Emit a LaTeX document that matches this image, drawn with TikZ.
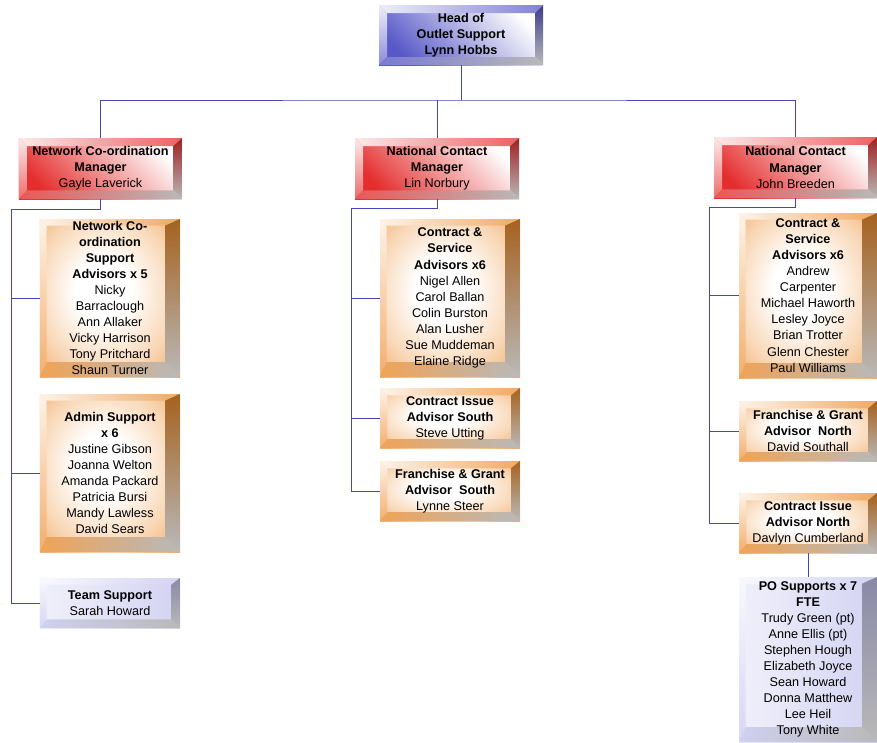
\documentclass[tikz,border=0pt]{standalone}
\usepackage{fontspec}
\setmainfont{Liberation Sans}
\usetikzlibrary{positioning}
\definecolor{headblue}{RGB}{88,88,200}
\definecolor{mgrred}{RGB}{228,45,45}
\definecolor{advorange}{RGB}{236,140,45}
\definecolor{suplav}{RGB}{196,196,238}
\definecolor{linkblue}{RGB}{70,70,180}
\pgfdeclareradialshading{advface}{\pgfpoint{-3bp}{3bp}}{%
  color(0bp)=(white); color(10bp)=(white); color(25bp)=(advorange!35);
  color(40bp)=(advorange!85); color(60bp)=(advorange)}

\begin{document}
\begin{tikzpicture}[x=0.03cm, y=-0.03cm,
    conn/.style={draw=linkblue, line width=0.8pt},
    bevel/.style n args={3}{path picture={
        \path (path picture bounding box.south west) coordinate (bsw)
              (path picture bounding box.north east) coordinate (bne);
        \path (bsw) ++(#2,#3) coordinate (isw);
        \path (bne) ++(-#3,-#2) coordinate (ine);
        \shade[left color=#1!10, right color=#1!75] (bsw|-bne) -- (bne) -- (ine) -- (isw|-ine) -- cycle;
        \shade[top color=#1!10, bottom color=#1!70] (bsw|-bne) -- (isw|-ine) -- (isw) -- (bsw) -- cycle;
        \shade[top color=#1!70!black, bottom color=gray!55] (bne) -- (bne|-bsw) -- (ine|-isw) -- (ine) -- cycle;
        \shade[left color=#1!80, right color=gray!55] (bsw) -- (bne|-bsw) -- (ine|-isw) -- (isw) -- cycle;
    }},
    card/.style={rectangle, inner sep=0pt, align=center, font=\fontsize{10.8}{13.7}\selectfont},
    headbox/.style={card, top color=white, middle color=headblue!40, bottom color=headblue, shading angle=-45,
        bevel={headblue}{0.24cm}{0.24cm}},
    mgrbox/.style={card, top color=white, middle color=mgrred!22, bottom color=mgrred, shading angle=-45,
        bevel={mgrred}{0.24cm}{0.26cm}},
    advbox/.style 2 args={card, shade, shading=advface, bevel={advorange}{#1}{#2}},
    supbox/.style 2 args={card, left color=suplav!25, right color=suplav!75, bevel={suplav}{#1}{#2}}]

    \useasboundingbox[fill=white] (0,0) rectangle (877,742);

    % top of the chart
    \node[headbox, minimum width=4.92cm, minimum height=1.8cm] (head) at (461,35)
        {\bfseries Head of\\\bfseries Outlet Support\\\bfseries Lynn Hobbs};

    \node[mgrbox, minimum width=4.89cm, minimum height=1.83cm] (mgrL) at (100.5,168.5)
        {\bfseries Network Co-ordination\\\bfseries Manager\\Gayle Laverick};
    \node[mgrbox, minimum width=4.92cm, minimum height=1.83cm] (mgrM) at (437,168.5)
        {\bfseries National Contact\\\bfseries Manager\\Lin Norbury};
    \node[mgrbox, minimum width=4.89cm, minimum height=1.83cm] (mgrR) at (795.5,167.5)
        {\bfseries National Contact\\\bfseries Manager\\John Breeden};

    % left column
    \node[advbox={0.2cm}{0.45cm}, minimum width=4.2cm, minimum height=4.74cm] (ncsa) at (110,298)
        {\bfseries Network Co-\\\bfseries ordination\\\bfseries Support\\\bfseries Advisors x 5\\Nicky\\Barraclough\\Ann Allaker\\Vicky Harrison\\Tony Pritchard\\Shaun Turner};
    \node[advbox={0.2cm}{0.45cm}, minimum width=4.2cm, minimum height=4.74cm] (admin) at (110,473)
        {\bfseries Admin Support\\\bfseries x 6\\Justine Gibson\\Joanna Welton\\Amanda Packard\\Patricia Bursi\\Mandy Lawless\\David Sears};
    \node[supbox={0.2cm}{0.26cm}, minimum width=4.2cm, minimum height=1.5cm] (team) at (110,603)
        {\bfseries Team Support\\Sarah Howard};

    % middle column
    \node[advbox={0.2cm}{0.45cm}, minimum width=4.2cm, minimum height=4.74cm] (csaM) at (450,298)
        {\bfseries Contract \&\\\bfseries Service\\\bfseries Advisors x6\\Nigel Allen\\Carol Ballan\\Colin Burston\\Alan Lusher\\Sue Muddeman\\Elaine Ridge};
    \node[advbox={0.22cm}{0.27cm}, minimum width=4.2cm, minimum height=1.8cm] (ciaS) at (450,418)
        {\bfseries Contract Issue\\\bfseries Advisor South\\Steve Utting};
    \node[advbox={0.22cm}{0.27cm}, minimum width=4.2cm, minimum height=1.8cm] (fgaS) at (450,491)
        {\bfseries Franchise \& Grant\\\bfseries Advisor~ South\\Lynne Steer};

    % right column
    \node[advbox={0.2cm}{0.45cm}, minimum width=4.14cm, minimum height=4.95cm] (csaR) at (808,295.5)
        {\bfseries Contract \&\\\bfseries Service\\\bfseries Advisors x6\\Andrew\\Carpenter\\Michael Haworth\\Lesley Joyce\\Brian Trotter\\Glenn Chester\\Paul Williams};
    \node[advbox={0.22cm}{0.27cm}, minimum width=4.14cm, minimum height=1.8cm] (fgaN) at (808,431)
        {\bfseries Franchise \& Grant\\\bfseries Advisor~ North\\David Southall};
    \node[advbox={0.22cm}{0.27cm}, minimum width=4.14cm, minimum height=1.8cm] (ciaN) at (808,523)
        {\bfseries Contract Issue\\\bfseries Advisor North\\Davlyn Cumberland};
    \node[supbox={0.2cm}{0.45cm}, minimum width=4.14cm, minimum height=4.95cm] (po) at (808,659.5)
        {\bfseries PO Supports x 7\\\bfseries FTE\\Trudy Green (pt)\\Anne Ellis (pt)\\Stephen Hough\\Elizabeth Joyce\\Sean Howard\\Donna Matthew\\Lee Heil\\Tony White};

    % connectors
    \coordinate (bus) at (461,100);
    \draw[conn] (head.south) -- (bus);
    \draw[conn] (mgrL.north) |- (bus) -| (mgrR.north);
    \draw[conn] (mgrM.north) -- (mgrM.north |- bus);

    \coordinate (trunkL) at (11,209);
    \draw[conn] (mgrL.south) |- (trunkL) -- (trunkL |- team.west) -- (team.west);
    \draw[conn] (trunkL |- ncsa.west) -- (ncsa.west);
    \draw[conn] (trunkL |- admin.west) -- (admin.west);

    \coordinate (trunkM) at (351,208);
    \draw[conn] (mgrM.south) |- (trunkM) -- (trunkM |- fgaS.west) -- (fgaS.west);
    \draw[conn] (trunkM |- csaM.west) -- (csaM.west);
    \draw[conn] (trunkM |- ciaS.west) -- (ciaS.west);

    \coordinate (trunkR) at (709,207);
    \draw[conn] (mgrR.south) |- (trunkR) -- (trunkR |- ciaN.west) -- (ciaN.west);
    \draw[conn] (trunkR |- csaR.west) -- (csaR.west);
    \draw[conn] (trunkR |- fgaN.west) -- (fgaN.west);
    \draw[conn] (ciaN.south) -- (po.north);
\end{tikzpicture}
\end{document}
